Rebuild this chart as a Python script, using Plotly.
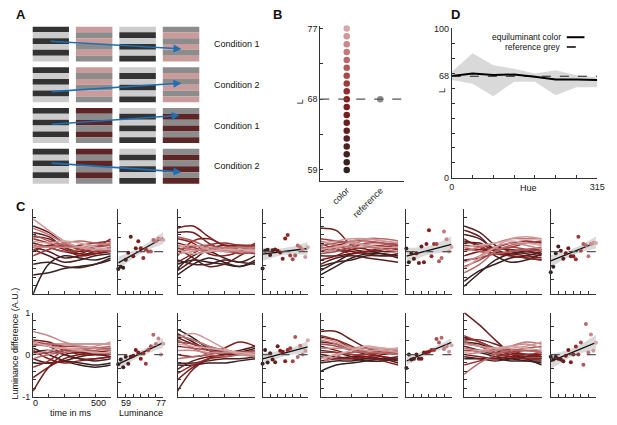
import numpy as np
import plotly.graph_objects as go

W, H = 617, 425
def px(x): return x / W
def py(y): return 1 - y / H

FONT = "Liberation Sans"

# ---------------- data ----------------
LUM = list(range(59, 78))              # luminance levels (19)
TIME = [0, 100, 200, 300, 400, 500]    # ms
HUE = [0, 45, 90, 135, 180, 225, 270, 315]
REF_L = 68

# panel D
D_EQUI = [68.1, 69.9, 68.8, 69.2, 67.7, 65.9, 65.9, 65.5]
D_UPPER = [71.0, 83.4, 75.3, 73.1, 69.9, 72.0, 68.6, 67.2]
D_LOWER = [65.5, 62.9, 54.6, 64.4, 64.4, 55.2, 60.7, 60.7]

# panel A
A_CONDITIONS = ["Condition 1", "Condition 2", "Condition 1", "Condition 2"]
A_CHROMA = ["#c99b9b", "#c99b9b", "#5c2626", "#5c2626"]
A_ARROW_START = [(0.38, 0.36), (0.41, 1.60), (0.41, 2.40), (0.41, 3.35)]
A_ARROW_END = [(3.43, 0.55), (3.43, 1.39), (3.39, 2.18), (3.43, 3.57)]

# panel C: time courses (19 curves per panel, darkest -> lightest)
CURVES_TOP = [
    [  # group 1
        [-1.0, -0.3, -0.1, -0.15, -0.2, -0.1],
        [-0.55, -0.5, -0.4, -0.35, -0.3, -0.2],
        [-0.3, -0.25, -0.35, -0.38, -0.3, -0.15],
        [0.05, -0.1, -0.25, -0.2, -0.1, -0.05],
        [0.1, 0.0, -0.15, -0.1, 0.0, 0.05],
        [0.45, 0.35, 0.1, -0.05, -0.05, 0.0],
        [0.6, 0.45, 0.2, 0.05, 0.0, 0.1],
        [0.2, 0.1, 0.0, -0.05, 0.1, 0.2],
        [0.35, 0.3, 0.1, 0.0, 0.1, 0.3],
        [0.0, 0.15, 0.05, -0.1, -0.05, 0.05],
        [0.3, 0.2, 0.1, 0.15, 0.2, 0.25],
        [-0.1, 0.05, 0.15, 0.05, 0.0, 0.1],
        [0.2, 0.1, 0.0, 0.05, 0.1, 0.15],
        [0.4, 0.25, 0.15, 0.1, 0.05, 0.0],
        [0.15, 0.1, 0.2, 0.25, 0.2, 0.15],
        [0.55, 0.4, 0.2, 0.1, 0.05, 0.1],
        [0.1, 0.1, 0.1, 0.1, 0.15, 0.2],
        [0.77, 0.5, 0.25, 0.1, 0.05, 0.05],
        [0.25, 0.2, 0.25, 0.2, 0.1, 0.05],
    ],
    [  # group 2
        [-0.3, -0.2, -0.25, -0.3, -0.35, -0.25],
        [-0.55, -0.3, -0.15, -0.25, -0.35, -0.2],
        [-0.4, -0.1, 0.0, -0.15, -0.25, -0.1],
        [-0.2, -0.3, -0.3, -0.2, -0.25, -0.3],
        [-0.45, -0.2, 0.05, 0.15, 0.1, 0.05],
        [0.1, -0.15, -0.35, -0.3, -0.1, 0.1],
        [0.45, 0.45, 0.2, 0.05, 0.1, 0.15],
        [0.55, 0.6, 0.35, 0.15, 0.15, 0.1],
        [-0.1, 0.25, 0.3, 0.15, 0.05, 0.1],
        [0.3, 0.2, -0.05, -0.1, 0.0, 0.2],
        [-0.25, -0.05, 0.15, 0.2, 0.15, 0.15],
        [0.2, 0.1, 0.0, 0.05, 0.0, -0.05],
        [0.05, 0.1, 0.15, 0.05, -0.05, 0.0],
        [0.35, 0.25, 0.1, 0.0, 0.0, 0.05],
        [0.0, 0.05, 0.0, 0.05, 0.1, 0.05],
        [0.15, 0.05, 0.05, 0.1, 0.1, 0.1],
        [-0.05, 0.0, 0.1, 0.05, 0.0, 0.0],
        [0.1, 0.15, 0.05, 0.0, 0.05, 0.05],
        [0.05, -0.05, 0.0, 0.05, 0.05, 0.0],
    ],
    [  # group 3
        [-0.55, -0.35, -0.15, -0.05, -0.05, -0.1],
        [-0.45, -0.25, -0.05, 0.0, -0.05, -0.15],
        [-0.35, -0.25, -0.2, -0.1, -0.1, -0.05],
        [-0.1, -0.1, -0.05, 0.0, 0.05, 0.1],
        [-0.3, -0.15, -0.1, -0.15, -0.2, -0.25],
        [0.1, 0.05, 0.0, -0.05, -0.1, -0.1],
        [0.55, 0.5, 0.15, 0.05, 0.0, 0.0],
        [0.0, 0.1, 0.05, 0.0, 0.05, 0.2],
        [-0.2, -0.1, 0.05, 0.1, 0.1, 0.05],
        [0.2, 0.05, -0.05, 0.0, 0.1, 0.15],
        [0.05, 0.15, 0.2, 0.15, 0.1, 0.05],
        [0.3, 0.25, 0.2, 0.15, 0.15, 0.2],
        [-0.05, 0.0, 0.1, 0.2, 0.2, 0.15],
        [0.15, 0.2, 0.25, 0.25, 0.2, 0.1],
        [0.1, 0.1, 0.15, 0.3, 0.3, 0.25],
        [0.25, 0.15, 0.1, 0.1, 0.05, 0.0],
        [0.0, 0.05, 0.25, 0.3, 0.25, 0.2],
        [0.2, 0.25, 0.3, 0.3, 0.25, 0.2],
        [0.05, 0.1, 0.2, 0.15, 0.1, 0.1],
    ],
    [  # group 4
        [-0.82, -0.5, -0.2, -0.05, 0.0, -0.05],
        [-0.7, -0.45, -0.3, -0.15, -0.1, 0.0],
        [0.25, 0.15, -0.1, -0.25, -0.2, -0.05],
        [0.4, 0.3, 0.05, -0.05, 0.0, 0.05],
        [0.6, 0.45, 0.15, 0.0, -0.05, -0.1],
        [0.5, 0.35, 0.0, -0.1, -0.15, -0.2],
        [0.2, 0.2, 0.0, -0.05, -0.1, -0.15],
        [-0.1, 0.0, 0.05, 0.05, 0.0, -0.05],
        [0.3, 0.1, -0.05, -0.1, -0.15, -0.2],
        [0.05, 0.05, 0.1, 0.2, 0.25, 0.2],
        [-0.2, -0.15, -0.05, 0.0, 0.05, 0.05],
        [0.15, 0.1, 0.05, 0.1, 0.2, 0.25],
        [-0.35, -0.2, 0.0, 0.1, 0.05, 0.0],
        [0.1, 0.0, -0.05, 0.0, 0.05, 0.1],
        [-0.5, -0.3, 0.0, 0.15, 0.2, 0.15],
        [0.0, 0.1, 0.2, 0.3, 0.3, 0.3],
        [-0.25, -0.1, 0.1, 0.2, 0.15, 0.05],
        [-0.4, -0.15, 0.1, 0.3, 0.35, 0.3],
        [0.1, 0.15, 0.2, 0.25, 0.2, 0.15],
    ],
]

CURVES_BOTTOM = [
    [  # group 1
        [0.15, 0.0, -0.15, -0.25, -0.3, -0.25],
        [-0.2, -0.2, -0.15, -0.2, -0.25, -0.2],
        [0.05, 0.1, 0.0, -0.1, -0.15, -0.1],
        [-0.1, -0.2, -0.15, -0.05, 0.0, -0.05],
        [0.3, 0.2, 0.0, -0.1, -0.1, -0.05],
        [0.2, 0.25, 0.1, 0.05, 0.0, 0.0],
        [-0.87, -0.3, 0.0, 0.05, 0.05, 0.05],
        [-0.55, -0.3, -0.1, 0.0, 0.05, 0.1],
        [0.35, 0.3, 0.15, 0.0, 0.0, 0.05],
        [0.1, -0.1, -0.2, -0.15, -0.1, -0.05],
        [-0.3, -0.15, 0.1, 0.15, 0.15, 0.1],
        [0.3, 0.25, 0.2, 0.2, 0.15, 0.15],
        [0.0, 0.05, 0.1, 0.1, 0.05, 0.0],
        [0.25, 0.2, 0.15, 0.1, 0.1, 0.15],
        [-0.1, 0.0, 0.05, 0.1, 0.15, 0.2],
        [0.2, 0.25, 0.25, 0.25, 0.25, 0.25],
        [0.55, 0.45, 0.3, 0.2, 0.15, 0.1],
        [0.0, 0.1, 0.15, 0.15, 0.2, 0.3],
        [0.3, 0.2, 0.15, 0.1, 0.05, 0.05],
    ],
    [  # group 2
        [0.6, 0.4, 0.15, 0.05, 0.05, 0.05],
        [-0.25, -0.25, -0.2, -0.2, -0.15, -0.1],
        [0.5, 0.3, 0.1, 0.0, 0.05, 0.15],
        [-0.2, -0.2, -0.15, -0.1, -0.1, -0.05],
        [0.4, 0.25, 0.1, 0.05, 0.1, 0.2],
        [-0.35, -0.15, -0.05, 0.0, 0.05, 0.1],
        [-0.87, -0.35, -0.1, 0.0, 0.05, 0.05],
        [-0.6, -0.3, -0.1, 0.0, 0.0, 0.0],
        [0.0, -0.05, 0.0, 0.15, 0.3, 0.2],
        [0.45, 0.35, 0.2, 0.1, 0.05, 0.0],
        [-0.45, -0.25, -0.1, -0.05, 0.0, 0.0],
        [0.3, 0.25, 0.15, 0.1, 0.05, 0.05],
        [0.2, 0.15, 0.1, 0.05, 0.05, 0.1],
        [0.35, 0.15, 0.0, -0.05, 0.0, 0.05],
        [-0.1, -0.05, 0.0, 0.05, 0.05, 0.0],
        [0.45, 0.35, 0.2, 0.1, 0.0, -0.05],
        [0.1, 0.1, 0.05, 0.05, 0.05, 0.05],
        [0.4, 0.5, 0.35, 0.15, 0.0, 0.0],
        [0.25, 0.2, 0.15, 0.1, 0.05, 0.0],
    ],
    [  # group 3
        [-0.4, -0.25, -0.2, -0.15, -0.1, -0.05],
        [-0.2, -0.15, -0.15, -0.1, -0.1, -0.1],
        [0.0, -0.05, -0.1, -0.15, -0.15, -0.1],
        [0.1, 0.05, -0.05, -0.1, -0.1, -0.15],
        [-0.15, -0.1, -0.05, -0.05, -0.1, -0.2],
        [0.3, 0.25, 0.1, 0.0, -0.05, -0.1],
        [0.55, 0.55, 0.35, 0.15, 0.05, 0.0],
        [0.4, 0.35, 0.2, 0.05, -0.05, -0.1],
        [0.2, 0.1, 0.0, -0.05, -0.15, -0.25],
        [-0.05, -0.1, -0.1, -0.05, 0.0, 0.05],
        [0.45, 0.35, 0.15, 0.05, 0.05, 0.1],
        [0.05, 0.05, 0.0, 0.0, 0.05, 0.05],
        [0.25, 0.2, 0.1, 0.05, 0.1, 0.15],
        [-0.1, 0.0, 0.05, 0.1, 0.1, 0.05],
        [0.35, 0.25, 0.1, 0.05, 0.05, 0.0],
        [-0.2, -0.05, 0.1, 0.15, 0.15, 0.1],
        [0.15, 0.15, 0.15, 0.2, 0.15, 0.1],
        [0.4, 0.3, 0.15, 0.1, 0.1, 0.05],
        [-0.1, 0.0, 0.1, 0.2, 0.15, 0.15],
    ],
    [  # group 4
        [0.1, 0.05, -0.05, -0.1, -0.15, -0.2],
        [-0.1, -0.1, -0.1, -0.15, -0.15, -0.15],
        [0.3, 0.25, 0.1, 0.0, -0.1, -0.25],
        [-0.05, -0.1, -0.15, -0.1, -0.05, 0.0],
        [0.2, 0.1, 0.0, -0.05, -0.1, -0.1],
        [0.4, 0.3, 0.15, 0.05, 0.0, -0.05],
        [1.0, 0.7, 0.35, 0.05, -0.05, -0.05],
        [0.35, 0.35, 0.25, 0.1, 0.0, -0.05],
        [0.0, -0.05, -0.1, -0.05, 0.0, 0.0],
        [0.25, 0.2, 0.05, -0.05, -0.1, -0.1],
        [-0.25, -0.15, -0.05, 0.0, 0.0, 0.05],
        [0.45, 0.3, 0.15, 0.1, 0.1, 0.1],
        [0.1, 0.1, 0.05, 0.05, 0.1, 0.05],
        [0.3, 0.2, 0.1, 0.1, 0.15, 0.2],
        [-0.47, -0.2, 0.0, 0.1, 0.1, 0.05],
        [0.15, 0.1, 0.1, 0.2, 0.3, 0.25],
        [0.0, 0.05, 0.1, 0.2, 0.25, 0.15],
        [0.25, 0.2, 0.15, 0.15, 0.2, 0.3],
        [0.05, 0.1, 0.15, 0.2, 0.15, 0.1],
    ],
]

# panel C: per-luminance mean differences (scatter)
SCATTER_TOP = [
    [-0.41, -0.36, -0.38, -0.19, -0.03, 0.35, -0.11, 0.08, 0.24, 0.08,
     -0.15, 0.05, 0.0, 0.0, 0.27, 0.24, 0.31, 0.29, 0.27],
    [-0.40, 0.02, 0.04, -0.08, 0.03, 0.05, 0.02, -0.02, -0.17, 0.31,
     0.39, -0.09, -0.18, -0.09, 0.14, 0.10, 0.05, -0.13, 0.10],
    [0.07, -0.25, -0.04, -0.17, -0.04, -0.27, 0.12, -0.25, 0.18, 0.50,
     -0.11, 0.18, 0.18, -0.23, -0.15, 0.47, 0.29, 0.0, 0.11],
    [-0.49, -0.36, -0.04, 0.12, 0.02, -0.17, -0.04, 0.08, -0.11, -0.11,
     -0.18, 0.35, 0.02, 0.18, 0.15, -0.11, 0.18, 0.21, 0.20],
]
SCATTER_BOTTOM = [
    [-0.23, -0.12, -0.30, -0.05, -0.22, -0.05, -0.03, 0.11, 0.05, -0.10,
     0.03, -0.22, 0.11, 0.20, 0.47, 0.25, 0.38, 0.0, 0.26],
    [-0.22, 0.11, -0.19, 0.03, -0.12, -0.18, 0.20, 0.09, 0.07, -0.16,
     0.11, 0.15, -0.16, 0.42, -0.06, 0.21, 0.0, 0.09, 0.34],
    [-0.32, 0.0, -0.12, -0.10, 0.0, -0.10, -0.10, 0.05, 0.05, 0.07,
     0.11, 0.11, 0.37, 0.29, 0.40, 0.13, 0.19, 0.07, 0.22],
    [-0.05, -0.12, -0.05, -0.10, -0.12, -0.16, -0.03, 0.11, -0.18, 0.0,
     0.19, 0.0, 0.29, -0.24, 0.73, 0.05, 0.48, 0.09, 0.28],
]

# ---------------- style ----------------
C_DARK = (48, 34, 34)
C_MID = (140, 28, 28)
C_LIGHT = (216, 168, 168)

def lum_color(i):
    if i <= 9:
        t, a, b = i / 9, C_DARK, C_MID
    else:
        t, a, b = (i - 9) / 9, C_MID, C_LIGHT
    return "rgb(%d,%d,%d)" % tuple(round(a[k] + (b[k] - a[k]) * t) for k in range(3))

COLORS = [lum_color(i) for i in range(len(LUM))]
AXC = "#333333"
BASE = dict(showgrid=False, zeroline=False, showline=True, linecolor=AXC,
            linewidth=1, ticks="inside", ticklen=3, tickwidth=1, tickcolor=AXC,
            tickfont=dict(size=9, color="#222", family=FONT), fixedrange=True)

fig = go.Figure()
layout = {}
shapes = []
annotations = []
counter = [0]

def new_axes(xd, yd, xo, yo):
    counter[0] += 1
    n = counter[0]
    s = "" if n == 1 else str(n)
    layout["xaxis" + s] = dict(domain=[px(xd[0]), px(xd[1])], anchor="y" + s, **xo)
    layout["yaxis" + s] = dict(domain=[py(yd[1]), py(yd[0])], anchor="x" + s, **yo)
    return "x" + s, "y" + s

def text(x, y, s, size=9, angle=0, xanchor="center", yanchor="middle"):
    annotations.append(dict(x=px(x), y=py(y), xref="paper", yref="paper", text=s,
                            showarrow=False, textangle=angle, xanchor=xanchor,
                            yanchor=yanchor,
                            font=dict(size=size, family=FONT, color="#111")))

# ---------------- panel A ----------------
xa, ya = new_axes((30, 260), (22, 189),
                  dict(visible=False, range=[0, 5.2], fixedrange=True),
                  dict(visible=False, range=[4, 0], fixedrange=True))
SQ_W, SQ_H, NSTRIPE = 0.84, 0.86, 6
for r in range(4):
    patterns = [["#333333", "#cccccc"], [A_CHROMA[r], "#8c8c8c"],
                ["#cccccc", "#333333"], ["#8c8c8c", A_CHROMA[r]]]
    for c in range(4):
        for k in range(NSTRIPE):
            h = SQ_H / NSTRIPE
            shapes.append(dict(type="rect", xref=xa, yref=ya, x0=c, x1=c + SQ_W,
                               y0=r + k * h, y1=r + (k + 1) * h,
                               fillcolor=patterns[c][k % 2], line=dict(width=0),
                               layer="below"))
    annotations.append(dict(x=A_ARROW_END[r][0], y=A_ARROW_END[r][1], xref=xa, yref=ya,
                            ax=A_ARROW_START[r][0], ay=A_ARROW_START[r][1],
                            axref=xa, ayref=ya, text="", showarrow=True,
                            arrowhead=2, arrowsize=1, arrowwidth=1.6,
                            arrowcolor="#1f6fb4"))
    annotations.append(dict(x=4.14, y=r + SQ_H / 2, xref=xa, yref=ya,
                            text=A_CONDITIONS[r], showarrow=False, xanchor="left",
                            font=dict(size=9, family=FONT, color="#111")))
fig.add_trace(go.Scatter(x=[], y=[], xaxis=xa, yaxis=ya))

# ---------------- panel B ----------------
xb, yb = new_axes((323, 408), (22, 180),
                  dict(BASE, range=[-0.79, 1.7], tickvals=[0, 1],
                       ticktext=["color", "reference"], tickangle=-45, ticks=""),
                  dict(BASE, range=[57.63, 77.25], tickvals=[59, 63.5, 68, 72.5, 77],
                       ticktext=["59", "", "68", "", "77"]))
shapes.append(dict(type="line", xref=xb + " domain", yref=yb, x0=0, x1=1,
                   y0=REF_L, y1=REF_L, line=dict(color="#555", width=1.2, dash="dash")))
fig.add_trace(go.Scatter(x=[0] * len(LUM), y=LUM, mode="markers", xaxis=xb, yaxis=yb,
                         marker=dict(size=6.5, color=COLORS), cliponaxis=False))
fig.add_trace(go.Scatter(x=[1], y=[REF_L], mode="markers", xaxis=xb, yaxis=yb,
                         marker=dict(size=6.5, color="#8c8c8c"), cliponaxis=False))
text(302, 99, "L", size=9, angle=-90)

# ---------------- panel D ----------------
yt = sorted(set(list(range(0, 101, 10)) + [REF_L]))
xd, yd = new_axes((457, 605), (24, 177),
                  dict(BASE, range=[0, 315], tickvals=HUE,
                       ticktext=["0"] + [""] * (len(HUE) - 2) + ["315"]),
                  dict(BASE, range=[0, 100], tickvals=yt,
                       ticktext=[str(v) if v in (0, REF_L, 100) else "" for v in yt]))
fig.add_trace(go.Scatter(x=HUE, y=D_UPPER, mode="lines", line=dict(width=0),
                         xaxis=xd, yaxis=yd, hoverinfo="skip"))
fig.add_trace(go.Scatter(x=HUE, y=D_LOWER, mode="lines", line=dict(width=0),
                         fill="tonexty", fillcolor="#d9d9d9", xaxis=xd, yaxis=yd))
fig.add_trace(go.Scatter(x=HUE, y=[REF_L] * len(HUE), mode="lines", xaxis=xd, yaxis=yd,
                         line=dict(color="#222", width=1.2, dash="dash")))
fig.add_trace(go.Scatter(x=HUE, y=D_EQUI, mode="lines", xaxis=xd, yaxis=yd,
                         line=dict(color="#000", width=2)))
text(535, 187, "Hue", size=9)
text(447, 88, "L", size=9, angle=-90)
text(570, 33, "equiluminant color", size=8.5, xanchor="right")
text(570, 43, "reference grey", size=8.5, xanchor="right")
shapes.append(dict(type="line", xref="paper", yref="paper", x0=px(574), x1=px(592),
                   y0=py(33), y1=py(33), line=dict(color="#000", width=2)))
shapes.append(dict(type="line", xref="paper", yref="paper", x0=px(574), x1=px(592),
                   y0=py(43), y1=py(43), line=dict(color="#000", width=1.5, dash="dash")))

# ---------------- panel C ----------------
LX = [30.7, 177.7, 323.3, 469.5]
SX = [117.3, 264.3, 410.7, 557.7]
ROWS = [(209, 296), (315, 401)]
LINE_YT = [round(v, 1) for v in np.arange(-1, 1.01, 0.2)]
SC_YT = [-1, -2 / 3, -1 / 3, 0, 1 / 3, 2 / 3, 1]
SC_XT = list(range(59, 78, 3))
lum_arr = np.array(LUM, dtype=float)

for ri, (curves_row, scat_row) in enumerate([(CURVES_TOP, SCATTER_TOP),
                                              (CURVES_BOTTOM, SCATTER_BOTTOM)]):
    for g in range(4):
        labeled = (ri == 1 and g == 0)
        xo = dict(BASE, range=[0, 500], tickvals=TIME, showticklabels=False)
        yo = dict(BASE, range=[-1, 1], tickvals=LINE_YT,
                  ticktext=[("1" if v == 1 else "0" if v == 0 else "-1" if v == -1 else "")
                            if labeled else "" for v in LINE_YT])
        xl, yl = new_axes((LX[g], LX[g] + 79), ROWS[ri], xo, yo)
        for i, cv in enumerate(curves_row[g]):
            fig.add_trace(go.Scatter(x=TIME, y=cv, mode="lines", xaxis=xl, yaxis=yl,
                                     line=dict(color=COLORS[i], width=1.5,
                                               shape="spline", smoothing=1.0)))
        xo = dict(BASE, range=[59, 77], tickvals=SC_XT, showticklabels=False)
        yo = dict(BASE, range=[-1, 1], tickvals=SC_YT, ticktext=[""] * 7)
        xs, ys = new_axes((SX[g], SX[g] + 46), ROWS[ri], xo, yo)
        vals = np.array(scat_row[g])
        slope, icpt = np.polyfit(lum_arr, vals, 1)
        fit = slope * lum_arr + icpt
        n = len(vals)
        s = np.sqrt(np.sum((vals - fit) ** 2) / (n - 2))
        se = s * np.sqrt(1 / n + (lum_arr - lum_arr.mean()) ** 2 /
                         np.sum((lum_arr - lum_arr.mean()) ** 2))
        fig.add_trace(go.Scatter(x=LUM, y=fit + 1.96 * se, mode="lines",
                                 line=dict(width=0), xaxis=xs, yaxis=ys))
        fig.add_trace(go.Scatter(x=LUM, y=fit - 1.96 * se, mode="lines",
                                 line=dict(width=0), fill="tonexty",
                                 fillcolor="#dadada", xaxis=xs, yaxis=ys))
        shapes.append(dict(type="line", xref=xs + " domain", yref=ys, x0=0, x1=1,
                           y0=0, y1=0, line=dict(color="#555", width=1.2, dash="dash")))
        fig.add_trace(go.Scatter(x=LUM, y=fit, mode="lines", xaxis=xs, yaxis=ys,
                                 line=dict(color="#111", width=1.3)))
        fig.add_trace(go.Scatter(x=LUM, y=list(vals), mode="markers", xaxis=xs, yaxis=ys,
                                 marker=dict(size=4, color=COLORS), cliponaxis=False))

# bottom-left tick labels (placed like the original)
text(33, 408, "0", size=9)
text(97, 408, "500", size=9)
text(125, 408, "59", size=9)
text(161, 408, "77", size=9)
text(69, 418, "time in ms", size=9)
text(141, 418, "Luminance", size=9)
text(12, 347, "Luminance difference (A.U.)", size=9, angle=-90)

# panel letters
text(18, 10, "<b>A</b>", size=13)
text(279, 10, "<b>B</b>", size=13)
text(461, 10, "<b>D</b>", size=13)
text(18, 206, "<b>C</b>", size=13)

fig.update_layout(width=W, height=H, margin=dict(l=0, r=0, t=0, b=0),
                  paper_bgcolor="white", plot_bgcolor="white", showlegend=False,
                  hovermode=False,
                  shapes=shapes, annotations=annotations,
                  font=dict(family=FONT, size=9, color="#111"), **layout)
fig.write_html("out.html", config={"displayModeBar": False, "staticPlot": True},
               post_script="document.body.style.margin='0';"
                           "document.body.style.overflow='hidden';")
